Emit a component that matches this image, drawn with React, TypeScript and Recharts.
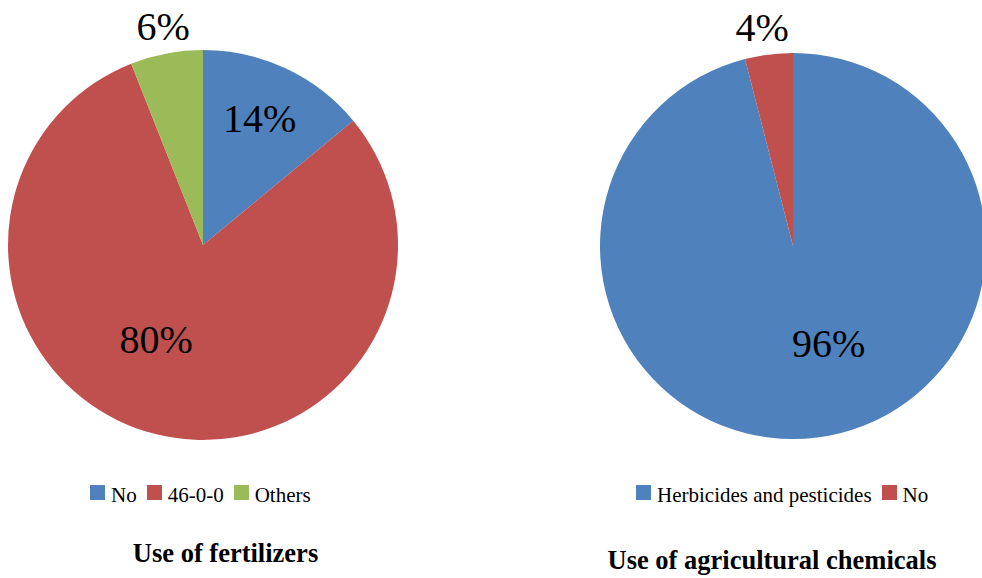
import React from 'react';
import { PieChart, Pie, Cell, Legend } from 'recharts';

// Fertilizer use survey
const fertilizerCategories = ['No', '46-0-0', 'Others'];
const fertilizerShares = [14, 80, 6];
const fertilizerColors = ['#4F81BD', '#C0504D', '#9BBB59'];
const fertilizerTitle = 'Use of fertilizers';

// Agricultural chemicals survey
const chemicalCategories = ['Herbicides and pesticides', 'No'];
const chemicalShares = [96, 4];
const chemicalColors = ['#4F81BD', '#C0504D'];
const chemicalTitle = 'Use of agricultural chemicals';

// Label placement per slice: radius as a fraction of the outer radius and an angular nudge (degrees)
const fertilizerLabelPlacement = [
  { r: 0.71, shift: 1 },
  { r: 0.54, shift: -12 },
  { r: 1.14, shift: -0.5 },
];
const chemicalLabelPlacement = [
  { r: 0.54, shift: 12.8 },
  { r: 1.145, shift: 0.8 },
];

const SERIF = "'Liberation Serif', 'Times New Roman', Times, serif";
const RAD = Math.PI / 180;
const NO_MARGIN = { top: 0, right: 0, bottom: 0, left: 0 };

const fertilizerData = fertilizerCategories.map((name, i) => ({ name, value: fertilizerShares[i] }));
const chemicalData = chemicalCategories.map((name, i) => ({ name, value: chemicalShares[i] }));

function makeLabel(placement: { r: number; shift: number }[]) {
  return (props: any) => {
    const { cx, cy, midAngle, outerRadius, index, value } = props;
    const p = placement[index];
    const a = (midAngle + p.shift) * RAD;
    const r = outerRadius * p.r;
    const x = cx + r * Math.cos(a);
    const y = cy - r * Math.sin(a);
    return (
      <text
        x={x}
        y={y}
        textAnchor="middle"
        dominantBaseline="central"
        style={{ fontFamily: SERIF, fontSize: 40, fill: '#000' }}
      >
        {value}%
      </text>
    );
  };
}

// Legend rows keep the category order of the data arrays
function makeLegend(names: string[], colors: string[]) {
  return () => (
    <div
      style={{
        display: 'flex',
        alignItems: 'flex-start',
        fontFamily: SERIF,
        fontSize: 21,
        lineHeight: '20px',
        color: '#000',
        whiteSpace: 'nowrap',
      }}
    >
      {names.map((name, i) => (
        <div key={name} style={{ display: 'flex', alignItems: 'flex-start', marginRight: 10 }}>
          <span
            style={{
              display: 'inline-block',
              width: 15,
              height: 15,
              marginRight: 6,
              background: colors[i],
            }}
          />
          <span>{name}</span>
        </div>
      ))}
    </div>
  );
}

export default function App() {
  return (
    <div
      style={{
        position: 'absolute',
        left: 0,
        top: 0,
        width: 982,
        height: 578,
        overflow: 'hidden',
        background: '#fff',
      }}
    >
      <div style={{ position: 'absolute', left: 0, top: 0 }}>
        <PieChart width={490} height={578} margin={NO_MARGIN}>
          <Pie
            data={fertilizerData}
            dataKey="value"
            nameKey="name"
            cx={203}
            cy={245}
            outerRadius={195}
            startAngle={90}
            endAngle={-270}
            stroke="none"
            labelLine={false}
            label={makeLabel(fertilizerLabelPlacement)}
            isAnimationActive={false}
          >
            {fertilizerData.map((d, i) => (
              <Cell key={d.name} fill={fertilizerColors[i]} />
            ))}
          </Pie>
          <Legend
            content={makeLegend(fertilizerCategories, fertilizerColors)}
            wrapperStyle={{ position: 'absolute', left: 90, top: 485, width: 'auto', height: 'auto' }}
          />
        </PieChart>
      </div>
      <div style={{ position: 'absolute', left: 490, top: 0 }}>
        <PieChart width={492} height={578} margin={NO_MARGIN}>
          <Pie
            data={chemicalData}
            dataKey="value"
            nameKey="name"
            cx={303}
            cy={246}
            outerRadius={193}
            startAngle={90}
            endAngle={-270}
            stroke="none"
            labelLine={false}
            label={makeLabel(chemicalLabelPlacement)}
            isAnimationActive={false}
          >
            {chemicalData.map((d, i) => (
              <Cell key={d.name} fill={chemicalColors[i]} />
            ))}
          </Pie>
          <Legend
            content={makeLegend(chemicalCategories, chemicalColors)}
            wrapperStyle={{ position: 'absolute', left: 146, top: 485, width: 'auto', height: 'auto' }}
          />
        </PieChart>
      </div>
      <svg
        width={982}
        height={578}
        style={{ position: 'absolute', left: 0, top: 0, pointerEvents: 'none' }}
      >
        <text
          x={225.5}
          y={562}
          textAnchor="middle"
          style={{ fontFamily: SERIF, fontWeight: 'bold', fontSize: 26.5, fill: '#000' }}
        >
          {fertilizerTitle}
        </text>
        <text
          x={772}
          y={569}
          textAnchor="middle"
          style={{ fontFamily: SERIF, fontWeight: 'bold', fontSize: 26.5, fill: '#000' }}
        >
          {chemicalTitle}
        </text>
      </svg>
    </div>
  );
}
